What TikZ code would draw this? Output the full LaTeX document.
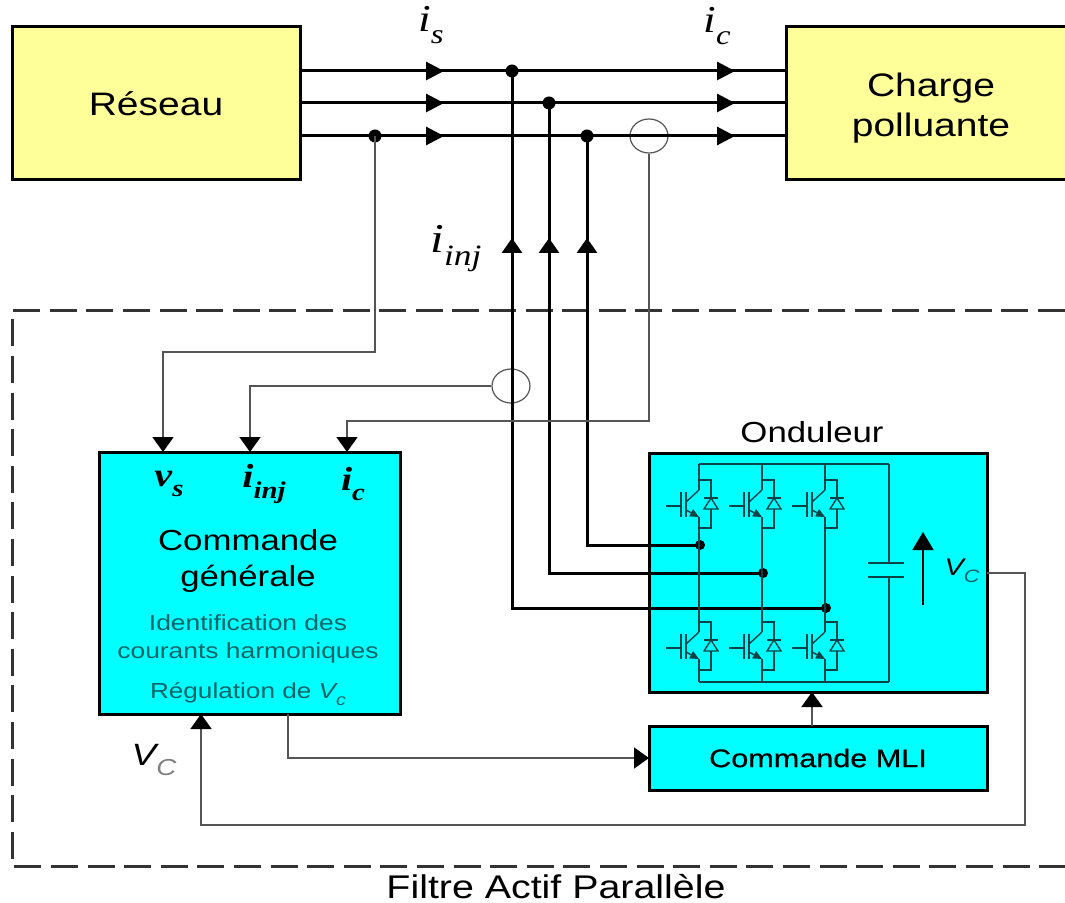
\documentclass[tikz,border=0pt]{standalone}
\usepackage{fontspec}
\setmainfont[FakeStretch=1.2]{Liberation Sans}
\newfontfamily\timesfont[FakeStretch=1.2]{Liberation Serif}
\newfontfamily\mlifont[FakeStretch=1.2,FakeBold=0.5]{Liberation Sans}
\usetikzlibrary{arrows.meta, shapes.geometric, positioning}
\definecolor{jaunebloc}{HTML}{FFFF99}
\definecolor{cyanbloc}{HTML}{00FFFF}
\definecolor{tealtexte}{HTML}{0B6468}
\definecolor{traitond}{HTML}{0A4448}
\definecolor{grismesure}{HTML}{555555}
\newcommand{\courant}[2]{{\timesfont\itshape #1\raisebox{-0.32em}{\scalebox{0.72}{#2}}}}
\newcommand{\tensionC}[2]{{\itshape V\raisebox{-0.3em}{\scalebox{0.75}{\textcolor{#1}{#2}}}}}
\tikzset{
  igbt/.pic={
    \draw[trait] (-33,0)--(-18,0);
    \draw[trait] (-18,-14)--(-18,11);
    \draw[trait] (-13,-14)--(-13,11);
    \draw[trait] (-13,-4)--(0,-16);
    \draw[trait, -{Triangle[length=4.5pt,width=4pt]}] (-13,4)--(0,11);
    \draw[trait] (0,-26)--(12,-26)--(12,-8);
    \draw[trait] (5,-8)--(19,-8);
    \draw[trait] (12,-8)--(5,3)--(19,3)--cycle;
    \draw[trait] (12,3)--(12,22)--(0,22);
    \coordinate (-c) at (0,-16);
    \coordinate (-e) at (0,11);
  }
}
\begin{document}
\begin{tikzpicture}[
  x=0.5pt, y=-0.5pt,
  bloc/.style={
    rectangle, draw=black, line width=1.5pt, outer sep=0pt,
    inner sep=0pt, align=center, text=black
  },
  reseaubox/.style={bloc, fill=jaunebloc, font=\fontsize{16.25}{20}\selectfont},
  ctrlbox/.style={bloc, fill=cyanbloc},
  texte/.style={inner sep=0pt, align=center},
  point/.style={circle, fill=black, inner sep=0pt, minimum size=6.5pt},
  capteur/.style={ellipse, draw=grismesure, line width=0.6pt, inner sep=0pt,
    minimum width=19pt, minimum height=17pt},
  ligne/.style={black, line width=1.5pt},
  flechel/.style={ligne, -{Triangle[length=9pt,width=9pt]}},
  flechev/.style={ligne, -{Triangle[length=7.5pt,width=10pt]}},
  mesure/.style={grismesure, line width=0.9pt},
  flechem/.style={mesure, -{Triangle[length=7.5pt,width=10.5pt,color=black]}},
  trait/.style={traitond, line width=0.7pt}
]
  \useasboundingbox (0,0) rectangle (1065,903);

  \node[reseaubox, minimum width=144pt, minimum height=76.5pt] (reseau) at (156,103.5) {Réseau};
  \node[reseaubox, minimum width=147pt, minimum height=76.5pt] (charge) at (933,103.5) {};
  \node[texte, font=\fontsize{16.25}{20}\selectfont] (tcharge) at (931,108) {Charge\\polluante};
  \draw[dashed, dash pattern=on 13.5pt off 4.8pt, black!80, line width=1.5pt]
    (1065,311) -- (12,311) -- (12,866) -- (1065,866);

  \node[ctrlbox, minimum width=150.5pt, minimum height=131pt] (commande) at (249.5,583) {};
  \node[ctrlbox, minimum width=169pt, minimum height=119.5pt] (onduleur) at (818,572.5) {};
  \node[ctrlbox, minimum width=169pt, minimum height=32pt,
        font=\mlifont\fontsize{12.75}{15}\selectfont] (mli) at (818,758) {Commande MLI};

  \node[texte, font=\fontsize{14.5}{17}\selectfont] (tonduleur) at (812,432) {Onduleur};
  \node[texte, font=\fontsize{16.4}{19}\selectfont] (tfiltre) at (556,887) {Filtre Actif Parallèle};
  \node[texte, font=\fontsize{19}{22}\selectfont] (tis) at (431,25) {\courant{i}{s}};
  \node[texte, font=\fontsize{19}{22}\selectfont] (tic) at (717,26) {\courant{i}{c}};
  \node[texte, font=\fontsize{20.5}{24}\selectfont] (tiinj) at (456,249) {\courant{i}{inj}};
  \node[texte, font=\fontsize{15.4}{18}\selectfont] (tvc) at (154,760) {\tensionC{gray}{C}};
  \node[texte, font=\fontsize{12}{15}\selectfont] (tvco) at (962,571) {\tensionC{tealtexte}{C}};

  \node[texte, font=\bfseries\fontsize{16.7}{20}\selectfont] (tvs) at (169,484) {\courant{v}{s}};
  \node[texte, font=\bfseries\fontsize{16.7}{20}\selectfont] (tinj) at (264,484) {\courant{i}{inj}};
  \node[texte, font=\bfseries\fontsize{16.7}{20}\selectfont] (tcc) at (353,484) {\courant{i}{c}};
  \node[texte, font=\fontsize{14.5}{18}\selectfont] (tgen) at (248,561) {Commande\\générale};
  \node[texte, text=tealtexte, font=\fontsize{11}{14}\selectfont] (tident) at (248,639)
    {Identification des\\courants harmoniques};
  \node[texte, text=tealtexte, font=\fontsize{10.9}{14}\selectfont] (treg) at (248,694)
    {Régulation de \tensionC{tealtexte}{c}};

  \coordinate (ga) at (300,71);
  \coordinate (gb) at (300,103);
  \coordinate (gc) at (300,136);
  \coordinate (da) at (786,71);
  \coordinate (db) at (786,103);
  \coordinate (dc) at (786,136);
  \coordinate (sa) at (444,71);
  \coordinate (sb) at (444,103);
  \coordinate (sc) at (444,136);
  \coordinate (ca) at (735,71);
  \coordinate (cb) at (735,103);
  \coordinate (cc) at (735,136);

  \node[point] (ja) at (512,71) {};
  \node[point] (jb) at (549,103) {};
  \node[point] (jc) at (587,136) {};
  \node[point] (jv) at (375,136) {};
  \node[point, minimum size=5pt] (oa) at (826,608) {};
  \node[point, minimum size=5pt] (ob) at (763,573) {};
  \node[point, minimum size=5pt] (oc) at (700,545) {};
  \node[capteur] (capc) at (649,136) {};
  \node[capteur] (capi) at (511,386) {};

  \draw[ligne] (ga)--(da);
  \draw[ligne] (gb)--(db);
  \draw[ligne] (gc)--(dc);
  \draw[flechel] (ga)--(sa);
  \draw[flechel] (gb)--(sb);
  \draw[flechel] (gc)--(sc);
  \draw[flechel] (sa)--(ca);
  \draw[flechel] (sb)--(cb);
  \draw[flechel] (sc)--(cc);

  \coordinate (ta) at (512,238);
  \coordinate (tb) at (549,238);
  \coordinate (tc) at (587,238);
  \draw[ligne] (oa.center) -| (ja.center);
  \draw[ligne] (ob.center) -| (jb.center);
  \draw[ligne] (oc.center) -| (jc.center);
  \draw[flechev] (oa.center) -| (ta);
  \draw[flechev] (ob.center) -| (tb);
  \draw[flechev] (oc.center) -| (tc);

  \coordinate (evs) at (163,452);
  \coordinate (einj) at (250,452);
  \coordinate (eic) at (347,452);
  \draw[flechem] (jv.center) |- (163,352) -- (evs);
  \draw[flechem] (capi.west) -| (einj);
  \draw[flechem] (capc.south) |- (347,421) -- (eic);

  \coordinate (sreg) at (288,714);
  \draw[flechem] (sreg) |- (mli.west);
  \draw[flechem] (mli.north -| 812,726) -- (812,692);
  \coordinate (svc) at (987,573);
  \coordinate (evc) at (201,714);
  \draw[flechem] (svc) -- (1025,573) -- (1025,825) -| (evc);

  \pic (ha) at (699,506) {igbt};
  \pic (hb) at (762,506) {igbt};
  \pic (hc) at (825,506) {igbt};
  \pic (ba) at (699,648) {igbt};
  \pic (bb) at (762,648) {igbt};
  \pic (bc) at (825,648) {igbt};
  \coordinate (busha) at (699,464);
  \coordinate (bushb) at (762,464);
  \coordinate (bushc) at (825,464);
  \coordinate (bushd) at (889,464);
  \coordinate (busba) at (699,682);
  \coordinate (busbb) at (762,682);
  \coordinate (busbc) at (825,682);
  \coordinate (busbd) at (889,682);
  \draw[trait] (busha)--(bushd);
  \draw[trait] (busba)--(busbd);
  \draw[trait] (busha)--(ha-c);
  \draw[trait] (bushb)--(hb-c);
  \draw[trait] (bushc)--(hc-c);
  \draw[trait] (ha-e)--(ba-c);
  \draw[trait] (hb-e)--(bb-c);
  \draw[trait] (hc-e)--(bc-c);
  \draw[trait] (ba-e)--(busba);
  \draw[trait] (bb-e)--(busbb);
  \draw[trait] (bc-e)--(busbc);

  \coordinate (capa) at (889,563);
  \coordinate (capb) at (889,577);
  \draw[trait] (bushd)--(capa);
  \draw[trait] (capb)--(busbd);
  \draw[trait] (868,563)--(904,563);
  \draw[trait] (868,577)--(904,577);
  \coordinate (vb) at (923,605);
  \coordinate (vh) at (923,532);
  \draw[black, line width=0.9pt, -{Triangle[length=9pt,width=10.5pt]}] (vb)--(vh);
\end{tikzpicture}
\end{document}
